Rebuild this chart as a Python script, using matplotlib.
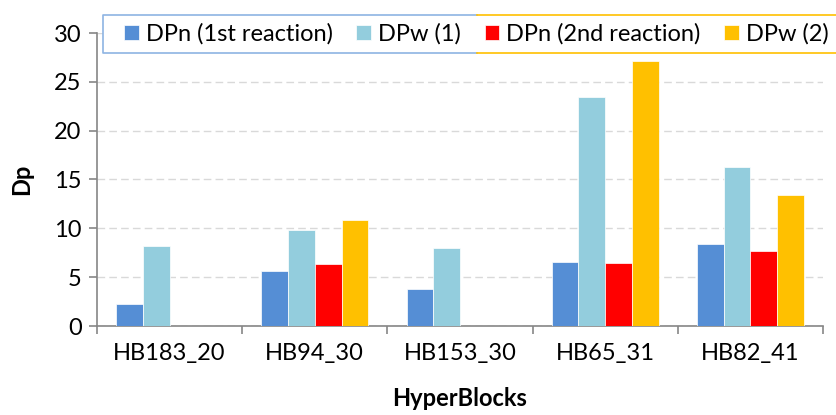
import matplotlib

matplotlib.use("Agg")
import matplotlib.pyplot as plt
import numpy as np
from matplotlib.lines import Line2D

plt.rcParams["font.family"] = ["Lato", "DejaVu Sans"]

blocks = ["HB183_20", "HB94_30", "HB153_30", "HB65_31", "HB82_41"]
series_names = ["DPn (1st reaction)", "DPw (1)", "DPn (2nd reaction)", "DPw (2)"]
dpn_1 = [2.3, 5.6, 3.8, 6.6, 8.4]
dpw_1 = [8.2, 9.8, 8.0, 23.4, 16.3]
dpn_2 = [np.nan, 6.3, np.nan, 6.5, 7.7]
dpw_2 = [np.nan, 10.9, np.nan, 27.1, 13.4]
colors = ["#558ED5", "#93CDDD", "#FF0000", "#FFC000"]

W, H = 837, 415
fig = plt.figure(figsize=(W / 100, H / 100), dpi=100)
ax = fig.add_axes([97 / W, 1 - 326 / H, (823 - 97) / W, (326 - 33) / H])

x = np.arange(len(blocks))
bw = 0.184
handles = []
for i, (vals, name, c) in enumerate(zip([dpn_1, dpw_1, dpn_2, dpw_2], series_names, colors)):
    b = ax.bar(x + (i - 1.5) * bw, vals, bw, color=c, edgecolor="white",
               linewidth=0.5, label=name, zorder=3)
    handles.append(b)

ax.set_xlim(-0.5, len(blocks) - 0.5)
ax.set_ylim(0, 30)
ax.set_yticks(np.arange(0, 31, 5))
ax.set_xticks(x)
ax.set_xticklabels(blocks)
ax.set_xticks(np.arange(-0.5, len(blocks)), minor=True)

axis_grey = "#868686"
fs = 17
for side in ["top", "right"]:
    ax.spines[side].set_visible(False)
for side in ["left", "bottom"]:
    ax.spines[side].set_color(axis_grey)
    ax.spines[side].set_linewidth(1.2)
ax.tick_params(axis="x", which="major", length=0, pad=12, labelsize=fs)
ax.tick_params(axis="x", which="minor", length=6, width=1.2, color=axis_grey)
ax.tick_params(axis="y", length=6, width=1.2, color=axis_grey, pad=5, labelsize=fs)
ax.yaxis.grid(True, color="#D9D9D9", linewidth=1.0, linestyle=(0, (5.5, 3)), zorder=0)
ax.set_axisbelow(True)

ax.set_ylabel("Dp", fontsize=fs, fontweight="bold", labelpad=15)
ax.set_xlabel("HyperBlocks", fontsize=fs, fontweight="bold", labelpad=17)

# legend frame: blue on the left half, gold on the right, running off the edge
y0, y1 = 1 - 15 / H, 1 - 53 / H
xl, xm, xr = 103 / W, 477 / W, 1.01
fig.patches.append(plt.Rectangle((xl, y1), xr - xl, y0 - y1, transform=fig.transFigure,
                                 facecolor="white", edgecolor="none", zorder=4))
frame_blue = "#8EB4E3"
frame_gold = "#FFC000"
for xs, ys, c in [
    ([xm, xl, xl, xm], [y0, y0, y1, y1], frame_blue),
    ([xm, xr], [y0, y0], frame_gold),
    ([xm, xr], [y1, y1], frame_gold),
]:
    fig.add_artist(Line2D(xs, ys, color=c, linewidth=1.2, transform=fig.transFigure, zorder=5))

leg = fig.legend(handles=handles, loc="center left", bbox_to_anchor=(124 / W, 1 - 34 / H),
                 ncol=4, frameon=False, fontsize=fs, handlelength=0.62, handleheight=0.62,
                 handletextpad=0.3, columnspacing=1.0, borderpad=0, borderaxespad=0)
leg.set_zorder(6)

fig.savefig("out.png", dpi=100)
